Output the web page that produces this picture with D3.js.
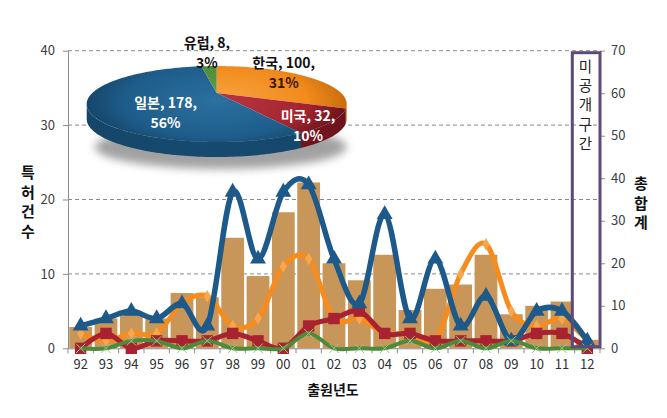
<!DOCTYPE html>
<html><head><meta charset="utf-8">
<script src="https://cdn.jsdelivr.net/npm/d3@7"></script>
<style>body{margin:0;background:#fff}svg{display:block}text{font-family:"Noto Sans CJK KR","Noto Sans",sans-serif}</style>
</head><body><svg id="c" width="667" height="418"></svg>
<script>
const years = ["92","93","94","95","96","97","98","99","00","01","02","03","04","05","06","07","08","09","10","11","12"];
const totals = [5,7,8,7,13,12,26,17,32,39,20,16,22,9,14,15,22,8,10,11,2];
const japan  = [3,4,5,4,6,3,21,12,21,22,12,6,18,4,12,3,7,1,5,5,1];
const korea  = [2,1,2,2,6,7,3,4,11,12,4,4,2,2,1,10,14,5,3,4,1];
const usa    = [0,2,0,1,1,1,2,1,0,3,4,5,2,2,1,1,1,1,2,2,0];
const europe = [0,0,1,1,0,1,0,0,0,2,0,0,0,1,0,1,0,1,0,0,0];
const pieNames = ["한국","미국","일본","유럽"];
const pieValues = [100,32,178,8];
const leftTicks = [0,10,20,30,40];
const rightTicks = [0,10,20,30,40,50,60,70];
const leftTitle = "특허건수";
const rightTitle = "총합계";
const xTitle = "출원년도";
const boxText = "미공개구간";

const svg = d3.select("#c");
const W = 667, H = 418;
svg.append("rect").attr("width", W).attr("height", H).attr("fill", "#fff");
const x0 = 68, x1 = 600, yTop = 50.7, yBot = 348.3;
const x = d3.scaleBand().domain(years).range([x0, x1]).paddingInner(0.1).paddingOuter(0.05);
const yL = d3.scaleLinear().domain([0, 40]).range([yBot, yTop]);
const yR = d3.scaleLinear().domain([0, 70]).range([yBot, yTop]);
const cx = d => x(d) + x.bandwidth() / 2;
const FONT = '"Noto Sans CJK KR","Noto Sans",sans-serif';

// gridlines
svg.append("g").selectAll("line").data(leftTicks.filter(v => v > 0)).join("line")
  .attr("x1", x0).attr("x2", x1).attr("y1", d => yL(d)).attr("y2", d => yL(d))
  .attr("stroke", "#8a8a8a").attr("stroke-dasharray", "4,3");

// axes
function styleAxis(g) {
  g.select(".domain").attr("stroke", "#8c8c8c");
  g.selectAll(".tick line").attr("stroke", "#8c8c8c");
  g.selectAll(".tick text").attr("font-size", 13).attr("fill", "#404040").attr("font-family", FONT);
}
svg.append("g").attr("transform", `translate(${x0},0)`)
  .call(d3.axisLeft(yL).tickValues(leftTicks).tickSize(5).tickSizeOuter(0).tickPadding(8)).call(styleAxis);
svg.append("g").attr("transform", `translate(${x1},0)`)
  .call(d3.axisRight(yR).tickValues(rightTicks).tickSize(5).tickSizeOuter(0).tickPadding(6)).call(styleAxis);

// bars (total, right axis)
svg.append("g").selectAll("rect").data(totals).join("rect")
  .attr("x", (d, i) => x(years[i])).attr("width", x.bandwidth())
  .attr("y", d => yR(d)).attr("height", d => yR(0) - yR(d))
  .attr("fill", "#c99659");

// x axis
const gx = svg.append("g").attr("transform", `translate(0,${yBot})`)
  .call(d3.axisBottom(x).tickSize(0).tickPadding(11).tickSizeOuter(0));
gx.select(".domain").attr("stroke", "#8c8c8c");
gx.selectAll(".tick text").attr("font-size", 13).attr("fill", "#303030").attr("font-family", FONT);
svg.append("g").selectAll("line").data(years.concat(["end"])).join("line")
  .attr("x1", (d, i) => x0 + i * x.step()).attr("x2", (d, i) => x0 + i * x.step())
  .attr("y1", yBot).attr("y2", yBot + 5).attr("stroke", "#8c8c8c");

// lines (left axis)
const lineGen = d3.line().x((d, i) => cx(years[i])).y(d => yL(d)).curve(d3.curveCardinal.tension(0));
const series = [
  {vals: korea, color: "#f68c1e", w: 5, sym: d3.symbolDiamond, size: 45, mfill: "#f9a64c"},
  {vals: usa, color: "#a9222f", w: 5, sym: d3.symbolSquare, size: 130, mfill: "#a9222f"},
  {vals: japan, color: "#1d5a8a", w: 5.5, sym: d3.symbolTriangle, size: 110, mfill: "#1d5a8a"},
  {vals: europe, color: "#4d8b3a", w: 4, sym: d3.symbolX, size: 60, mfill: null}
];
series.forEach(s => {
  const g = svg.append("g");
  g.append("path").attr("d", lineGen(s.vals)).attr("fill", "none")
    .attr("stroke", s.color).attr("stroke-width", s.w).attr("stroke-linejoin", "round");
  g.selectAll("path.m").data(s.vals).join("path").attr("class", "m")
    .attr("transform", (d, i) => `translate(${cx(years[i])},${yL(d)})`)
    .attr("d", d3.symbol(s.sym, s.size))
    .attr("fill", s.mfill || "none")
    .attr("stroke", s.mfill ? "none" : "#9cc48c").attr("stroke-width", 1);
});

// titles
leftTitle.split("").forEach((c, i) => svg.append("text").attr("x", 28).attr("y", 178 + i * 19.7)
  .attr("font-size", 15).attr("font-weight", "bold").attr("fill", "#111").attr("text-anchor", "middle").text(c));
rightTitle.split("").forEach((c, i) => svg.append("text").attr("x", 641).attr("y", 189 + i * 19.5)
  .attr("font-size", 15).attr("font-weight", "bold").attr("fill", "#111").attr("text-anchor", "middle").text(c));
svg.append("text").attr("x", 333).attr("y", 395).attr("font-size", 14).attr("font-weight", "bold")
  .attr("text-anchor", "middle").attr("fill", "#111").text(xTitle);

// 3D pie
const P = {cx: 216.7, cy: 93, A: 34.8, B: 124.4, p: 0.29, depth: 15};
function proj(t, f) {
  const X = f * Math.sin(t), Z = f * Math.cos(t), den = 1 + P.p * Z;
  return [P.cx + P.B * X / den, P.cy - P.A * Z / den];
}
const defs = svg.append("defs");
const blur = defs.append("filter").attr("id", "blur").attr("x", "-20%").attr("y", "-50%").attr("width", "140%").attr("height", "200%");
blur.append("feGaussianBlur").attr("stdDeviation", 4);
svg.append("ellipse").attr("cx", P.cx + 4).attr("cy", P.cy + 54).attr("rx", 126).attr("ry", 22)
  .attr("fill", "#8a8a8a").attr("opacity", 0.8).attr("filter", "url(#blur)");

const pieColors = [
  {top: "#f28a1c", light: "#f7a542", dark: "#c86d0c", side: "#d9770f"},
  {top: "#a32530", light: "#b83540", dark: "#6e131c", side: "#7d1720"},
  {top: "#1e5d8b", light: "#2b70a0", dark: "#154669", side: "#164a70"},
  {top: "#4f8b3b", light: "#62a04c", dark: "#35662a", side: "#3b6f2e"}
];
pieColors.forEach((c, i) => {
  const rg = defs.append("radialGradient").attr("id", "rg" + i).attr("gradientUnits", "userSpaceOnUse")
    .attr("cx", 0).attr("cy", 0).attr("r", P.B * 1.05)
    .attr("gradientTransform", `translate(${P.cx},${P.cy + 8}) scale(1,${P.A / P.B * 1.4})`);
  rg.append("stop").attr("offset", "0%").attr("stop-color", c.light);
  rg.append("stop").attr("offset", "70%").attr("stop-color", c.top);
  rg.append("stop").attr("offset", "100%").attr("stop-color", c.dark);
  const lg = defs.append("linearGradient").attr("id", "lg" + i).attr("gradientUnits", "userSpaceOnUse")
    .attr("x1", P.cx - 130).attr("x2", P.cx + 130).attr("y1", 0).attr("y2", 0);
  lg.append("stop").attr("offset", "0%").attr("stop-color", c.dark);
  lg.append("stop").attr("offset", "45%").attr("stop-color", c.side);
  lg.append("stop").attr("offset", "100%").attr("stop-color", c.dark);
});

const arcs = d3.pie().sort(null).value(d => d)(pieValues);
const visA = Math.acos(-P.p), visB = 2 * Math.PI - Math.acos(-P.p);
const gp = svg.append("g");
arcs.forEach((a, i) => {
  const s = Math.max(a.startAngle, visA), e = Math.min(a.endAngle, visB);
  if (e <= s) return;
  const n = Math.max(2, Math.ceil((e - s) / 0.02));
  const top = d3.range(n + 1).map(k => proj(s + (e - s) * k / n, 1));
  const bot = top.slice().reverse().map(q => [q[0], q[1] + P.depth]);
  gp.append("path").attr("d", "M" + top.concat(bot).map(q => q.join(",")).join("L") + "Z")
    .attr("fill", `url(#lg${i})`);
});
arcs.forEach((a, i) => {
  const n = Math.max(2, Math.ceil((a.endAngle - a.startAngle) / 0.02));
  const pts = [[P.cx, P.cy]].concat(d3.range(n + 1).map(k => proj(a.startAngle + (a.endAngle - a.startAngle) * k / n, 1)));
  gp.append("path").attr("d", "M" + pts.map(q => q.join(",")).join("L") + "Z").attr("fill", `url(#rg${i})`);
});
const total = d3.sum(pieValues);
const lab = [{f: 0.72, dx: 0, dy: -8, col: "#111", col2: "#3a1500"}, {f: 0.8, dx: 3, dy: 11, col: "#fff", col2: "#fff"},
             {f: 0.45, dx: 4, dy: 14, col: "#fff", col2: "#fff"}, {f: 1.2, dx: -1, dy: -9, col: "#111", col2: "#111"}];
arcs.forEach((a, i) => {
  const m = (a.startAngle + a.endAngle) / 2, q = proj(m, lab[i].f);
  const px = q[0] + lab[i].dx, py = q[1] + lab[i].dy;
  svg.append("text").attr("x", px).attr("y", py - 5).attr("text-anchor", "middle").attr("font-size", 14)
    .attr("font-weight", "bold").attr("fill", lab[i].col).text(`${pieNames[i]}, ${pieValues[i]},`);
  svg.append("text").attr("x", px).attr("y", py + 15).attr("text-anchor", "middle").attr("font-size", 14)
    .attr("font-weight", "bold").attr("fill", lab[i].col2).text(`${Math.round(pieValues[i] / total * 100)}%`);
});

// 미공개구간 box
svg.append("rect").attr("x", 572.3).attr("y", 52.7).attr("width", 27.7).attr("height", 294)
  .attr("fill", "none").attr("stroke", "#5e4a7a").attr("stroke-width", 3);
boxText.split("").forEach((c, i) => svg.append("text").attr("x", 585.5).attr("y", 71.8 + i * 19.3)
  .attr("font-size", 14.5).attr("fill", "#222").attr("text-anchor", "middle").text(c));
</script></body></html>
